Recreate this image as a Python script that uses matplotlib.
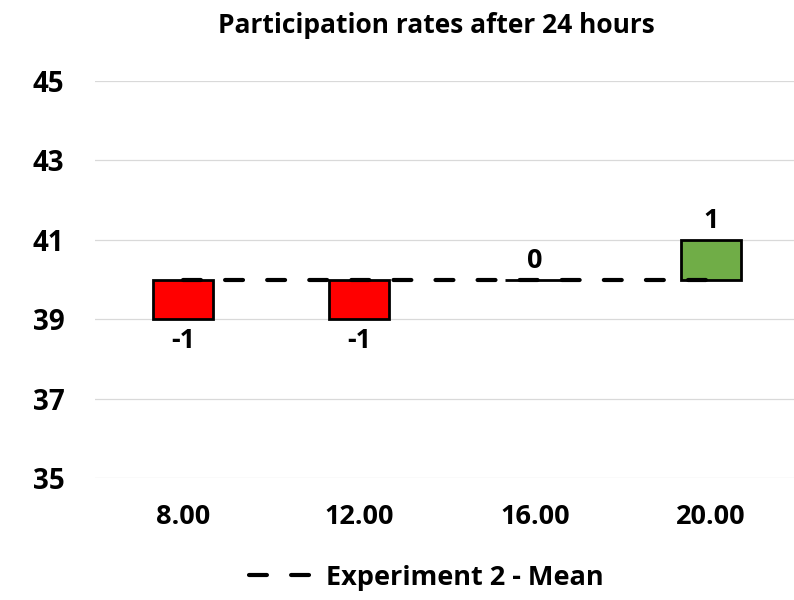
import matplotlib
matplotlib.use('Agg')
import matplotlib.pyplot as plt
from matplotlib.lines import Line2D

plt.rcParams['font.family'] = ['Open Sans', 'DejaVu Sans']
plt.rcParams['font.weight'] = 'bold'

# data
categories = ['8.00', '12.00', '16.00', '20.00']
mean_value = 40
deltas = [-1, -1, 0, 1]
yticks = [35, 37, 39, 41, 43, 45]
bar_colors = ['#FF0000', '#FF0000', '#FF0000', '#70AD47']

fig = plt.figure(figsize=(7.94, 6.0), dpi=100)
ax = fig.add_axes([0.1196, 0.2033, 0.8866, 0.6617])

x = list(range(len(categories)))

# grid
for yt in yticks:
    ax.axhline(yt, color='#D9D9D9', lw=0.9, zorder=0)

# floating bars from the mean
ax.bar(x, deltas, bottom=mean_value, width=0.34, color=bar_colors,
       edgecolor='black', linewidth=2, zorder=2)

# mean line
ax.plot(x, [mean_value] * len(x), color='black', lw=3,
        dashes=[4.3, 5.8], dash_capstyle='round', zorder=3)

# data labels
for xi, d in zip(x, deltas):
    if d >= 0:
        ax.annotate(f'{d}', (xi, mean_value + d), xytext=(0, 4),
                    textcoords='offset points', ha='center', va='bottom',
                    fontsize=19.5, fontweight='bold')
    else:
        ax.annotate(f'{d}', (xi, mean_value + d), xytext=(0, -6),
                    textcoords='offset points', ha='center', va='top',
                    fontsize=19.5, fontweight='bold')

ax.set_xlim(-0.5, 3.5)
ax.set_ylim(35, 45)
ax.set_yticks(yticks)
ax.set_xticks(x)
ax.set_xticklabels(categories)
ax.tick_params(axis='y', length=0, pad=22, labelsize=20)
ax.tick_params(axis='x', length=0, pad=19, labelsize=19.5)
for lab in ax.get_xticklabels() + ax.get_yticklabels():
    lab.set_fontweight('bold')
for s in ax.spines.values():
    s.set_visible(False)

fig.text(0.549, 0.958, 'Participation rates after 24 hours',
         ha='center', va='center', fontsize=19, fontweight='bold')

handle = Line2D([0], [0], color='black', lw=3, dashes=[4.3, 5.8],
                dash_capstyle='round')
fig.legend([handle], ['Experiment 2 - Mean'], loc='center',
           bbox_to_anchor=(0.537, 0.037), frameon=False,
           prop={'size': 19.5, 'weight': 'bold'}, handlelength=2.3,
           handletextpad=0.55)

fig.savefig('out.png', dpi=100)
